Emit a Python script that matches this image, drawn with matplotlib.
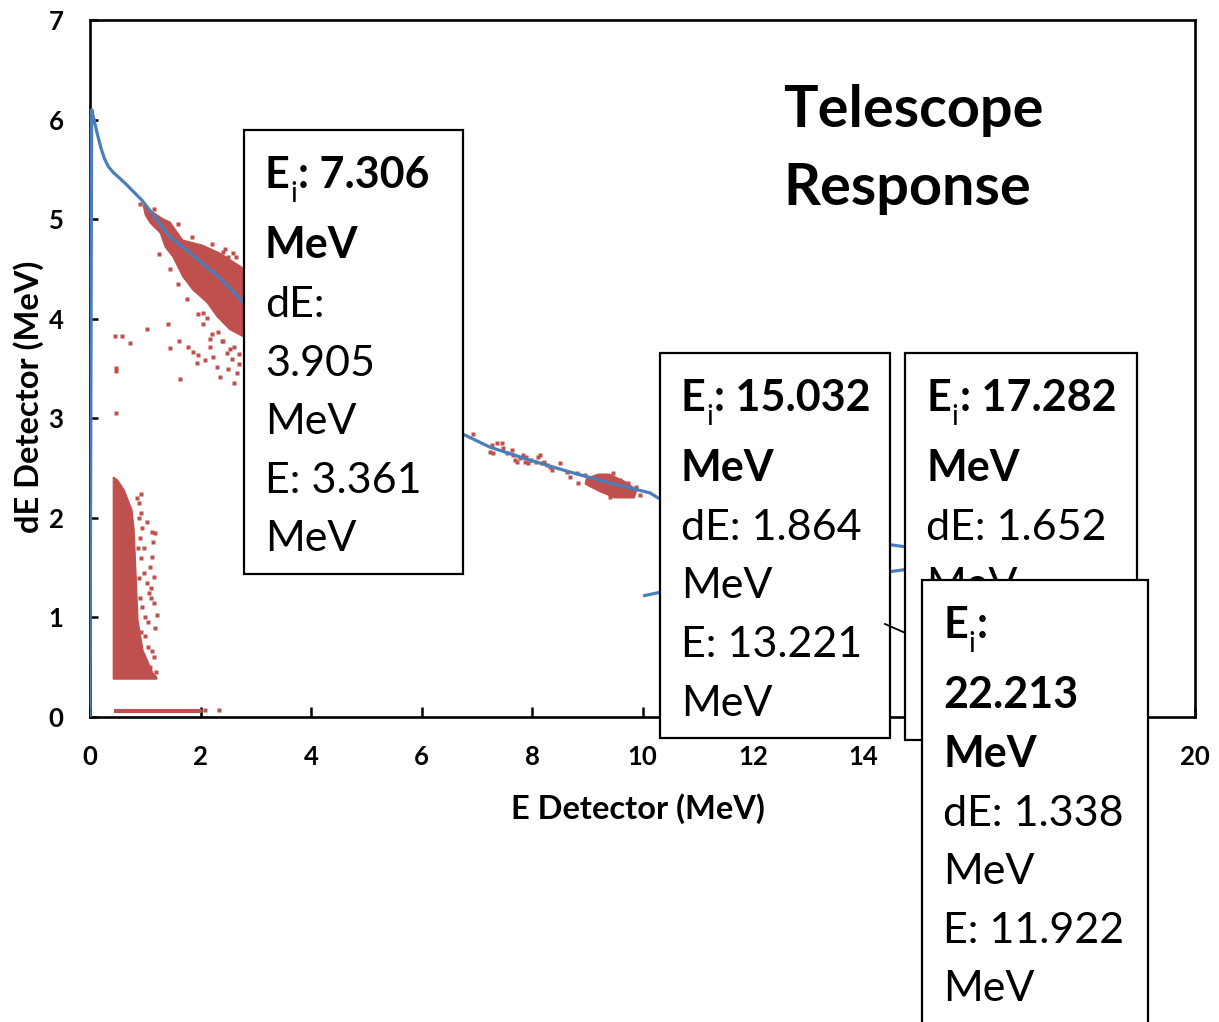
import matplotlib
matplotlib.use("Agg")
import matplotlib.pyplot as plt
from matplotlib.patches import Rectangle
from matplotlib.lines import Line2D

plt.rcParams['font.family'] = ['Lato', 'DejaVu Sans']

# model response curve, main branch
curve_e = [0.0, 0.03, 0.08, 0.14, 0.20, 0.26, 0.33, 0.42, 0.60, 0.94, 1.45, 1.81, 2.35, 2.77,
           3.5, 4.5, 5.5, 6.2, 6.79, 7.24, 7.96, 8.69, 9.41, 10.14, 10.28, 11.0, 12.0, 13.0,
           14.0, 14.48, 14.75]
curve_de = [0.0, 6.10, 5.98, 5.84, 5.71, 5.61, 5.53, 5.47, 5.38, 5.19, 4.82, 4.66, 4.41, 4.17,
            3.82, 3.45, 3.15, 2.97, 2.83, 2.71, 2.58, 2.46, 2.35, 2.25, 2.20, 2.12, 2.00, 1.88,
            1.78, 1.73, 1.71]
# punch-through branch
punch_e = [10.04, 10.30, 11.5, 13.0, 14.48, 14.75]
punch_de = [1.22, 1.25, 1.31, 1.39, 1.46, 1.48]

# dense regions of measured events (outlines)
band_hi_e = [0.96, 1.30, 1.45, 1.68, 2.03, 2.35, 2.77, 2.77, 2.53, 2.30, 2.12, 1.86, 1.68,
             1.50, 1.36, 1.27, 1.09, 1.00]
band_hi_de = [5.14, 5.01, 4.97, 4.79, 4.74, 4.66, 4.51, 3.82, 3.89, 4.02, 4.16, 4.29, 4.42,
              4.62, 4.72, 4.86, 4.96, 5.04]
cluster_lo_e = [0.42, 0.42, 0.50, 0.62, 0.76, 0.80, 0.83, 0.87, 0.96, 1.14, 1.21, 1.21]
cluster_lo_de = [0.38, 2.41, 2.38, 2.28, 2.08, 1.88, 1.48, 0.97, 0.67, 0.44, 0.40, 0.38]
blob_mid_e = [9.00, 9.20, 9.40, 9.70, 9.90, 9.85, 9.50, 9.20, 8.96]
blob_mid_de = [2.40, 2.44, 2.44, 2.36, 2.28, 2.20, 2.20, 2.27, 2.34]
floor_e = [0.43, 2.00, 2.00, 0.43]
floor_de = [0.055, 0.055, 0.085, 0.085]

# individual events
events_e = [0.45, 0.58, 0.72, 1.03, 1.41, 1.45, 1.61, 1.63, 0.47, 0.47, 0.47, 1.77, 1.86,
            1.95, 2.05, 2.12, 1.94, 2.08, 2.17, 2.23, 2.30, 2.35, 2.48, 2.50, 2.61, 2.41,
            2.59, 2.50, 2.57, 2.17, 2.32, 2.39, 2.53, 2.57, 2.70, 2.66,
            0.90, 1.15, 1.60, 1.85, 2.20, 2.45, 2.65, 1.25, 1.45, 1.60, 1.75, 1.95, 2.05,
            2.20, 2.40, 2.60, 2.70,
            0.92, 1.03, 1.13, 1.18, 1.14, 1.12, 1.15, 1.15, 1.21, 1.18, 1.12, 0.93, 1.03,
            1.06, 1.00, 1.09, 0.88, 0.98, 1.10, 0.95, 1.05,
            0.85, 0.88, 0.90, 0.95, 0.92, 0.98, 0.90, 0.95, 1.00, 0.92, 1.05, 1.00, 1.08,
            0.88, 0.86, 1.10, 1.15, 1.20, 0.83, 0.90,
            2.08, 2.33,
            6.94, 7.27, 7.36, 7.45, 7.24, 7.30, 7.48, 7.54, 7.63, 7.66, 7.69, 7.72, 7.78, 7.84,
            7.87, 7.90, 7.93, 7.99, 8.08, 8.11, 8.14, 8.18, 8.21, 8.27, 8.33, 8.36, 8.51, 8.63,
            8.69, 8.81, 8.84, 8.96, 8.99, 9.05, 9.08, 9.14, 9.17, 9.23, 9.26, 9.29, 9.32, 9.35,
            9.38, 9.41, 9.44, 9.47, 9.50, 9.53, 9.56, 9.59, 9.62, 9.65, 9.68, 9.71, 9.74, 9.77,
            9.83, 9.89, 9.95, 9.47, 9.41]
events_de = [3.83, 3.83, 3.76, 3.90, 3.95, 3.71, 3.78, 3.39, 3.51, 3.47, 3.05, 3.72, 3.67,
             3.64, 4.06, 4.01, 3.56, 3.59, 3.72, 3.62, 3.52, 3.41, 3.66, 3.49, 3.35, 4.67,
             4.66, 4.62, 4.52, 3.80, 3.87, 3.78, 3.70, 3.60, 3.55, 3.45,
             5.15, 5.10, 4.95, 4.82, 4.75, 4.70, 4.62, 4.65, 4.50, 4.35, 4.20, 4.05, 3.95,
             3.85, 3.78, 3.72, 3.65,
             2.24, 1.96, 1.86, 1.85, 1.76, 1.61, 1.41, 1.14, 1.02, 0.89, 0.66, 2.05, 1.35,
             1.25, 0.81, 1.51, 2.15, 1.70, 1.30, 0.55, 0.95,
             2.20, 2.00, 1.80, 1.90, 1.60, 1.45, 1.20, 1.10, 1.00, 0.85, 0.70, 0.50, 0.50,
             1.40, 1.70, 1.20, 0.60, 0.45, 0.80, 0.60,
             0.07, 0.07,
             2.84, 2.73, 2.75, 2.75, 2.66, 2.65, 2.70, 2.65, 2.68, 2.63, 2.58, 2.56, 2.60, 2.63,
             2.56, 2.61, 2.55, 2.58, 2.56, 2.61, 2.63, 2.55, 2.56, 2.53, 2.51, 2.48, 2.55, 2.46,
             2.41, 2.45, 2.35, 2.43, 2.38, 2.40, 2.33, 2.41, 2.36, 2.41, 2.31, 2.38, 2.28, 2.35,
             2.31, 2.40, 2.26, 2.45, 2.35, 2.30, 2.25, 2.38, 2.31, 2.33, 2.28, 2.23, 2.35, 2.30,
             2.26, 2.31, 2.23, 2.23, 2.21]

# data label contents: first line is (E, subscript, rest), then (text, bold)
label_heads = [("E", "i", ": 7.306"), ("E", "i", ": 15.032"), ("E", "i", ": 17.282"), ("E", "i", ":")]
label_lines = [
    [("MeV", True), ("dE:", False), ("3.905", False), ("MeV", False), ("E: 3.361", False),
     ("MeV", False)],
    [("MeV", True), ("dE: 1.864", False), ("MeV", False), ("E: 13.221", False), ("MeV", False)],
    [("MeV", True), ("dE: 1.652", False), ("MeV", False)],
    [("22.213", True), ("MeV", True), ("dE: 1.338", False), ("MeV", False), ("E: 11.922", False),
     ("MeV", False)],
]

W, H = 1219, 1022
fig = plt.figure(figsize=(W / 100, H / 100), dpi=100)
fig.patch.set_facecolor('white')


def fx(px):
    return px / W


def fy(py):
    return 1 - py / H


ax = fig.add_axes([fx(90), fy(717), fx(1195 - 90), (717 - 20) / H])

red = '#C0504D'
blue = '#4A7EBB'
for ex, ey in [(band_hi_e, band_hi_de), (cluster_lo_e, cluster_lo_de),
               (blob_mid_e, blob_mid_de), (floor_e, floor_de)]:
    ax.fill(ex, ey, color=red, lw=0.8, ec=red, zorder=2)
ax.plot(events_e, events_de, 's', color=red, ms=2.5, mec='none', zorder=2)
ax.plot(curve_e, curve_de, color=blue, lw=2.3, zorder=3)
ax.plot(punch_e, punch_de, color=blue, lw=2.3, zorder=3)

ax.set_xlim(0, 20)
ax.set_ylim(0, 7)
ax.set_xticks(range(0, 21, 2))
ax.set_yticks(range(0, 8))
ax.tick_params(axis='x', direction='in', length=7, width=1.8, labelsize=18.5, pad=20)
ax.tick_params(axis='y', direction='in', length=6, width=1.8, labelsize=18.5, pad=19)
for lbl in ax.get_xticklabels() + ax.get_yticklabels():
    lbl.set_fontweight('bold')
for sp in ax.spines.values():
    sp.set_linewidth(1.9)
    sp.set_color('black')

fig.text(fx(638), fy(819), 'E Detector (MeV)', fontsize=23.5, fontweight='bold',
         ha='center', va='baseline')
fig.text(fx(29), fy(397), 'dE Detector (MeV)', fontsize=23.5, fontweight='bold',
         ha='center', va='center', rotation=90)

fig.text(fx(783), fy(127), 'Telescope', fontsize=41.5, fontweight='bold', va='baseline')
fig.text(fx(783), fy(205), 'Response', fontsize=41.5, fontweight='bold', va='baseline')

# label box layout in pixels: left, top, width, height
boxes = [(244, 130, 219, 444), (660, 353, 230, 385), (905, 353, 232, 387), (922, 580, 226, 450)]
offsets = [58, 128, 187, 245.5, 304, 362.5, 421]

# leader line behind the right boxes
fig.add_artist(Line2D([fx(885), fx(910)], [fy(624), fy(635)], color='black', lw=1.3, zorder=13))

renderer = fig.canvas.get_renderer()
for k, ((bx, by, bw, bh), head, lines) in enumerate(zip(boxes, label_heads, label_lines)):
    z = 10 + 2 * k
    fig.add_artist(Rectangle((fx(bx), fy(by + bh)), bw / W, bh / H, transform=fig.transFigure,
                             facecolor='white', edgecolor='black', lw=1.6, zorder=z))
    tx = bx + 21
    t = fig.text(fx(tx), fy(by + offsets[0]), head[0], fontsize=31, fontweight='bold',
                 va='baseline', zorder=z + 0.5)
    x1 = t.get_window_extent(renderer=renderer).x1
    t = fig.text((x1 + 1) / W, fy(by + offsets[0] + 14), head[1], fontsize=20,
                 va='baseline', zorder=z + 0.5)
    x1 = t.get_window_extent(renderer=renderer).x1
    fig.text((x1 + 1) / W, fy(by + offsets[0]), head[2], fontsize=31, fontweight='bold',
             va='baseline', zorder=z + 0.5)
    for (txt, bold), off in zip(lines, offsets[1:]):
        fig.text(fx(tx), fy(by + off), txt, fontsize=31,
                 fontweight='bold' if bold else 'normal', va='baseline', zorder=z + 0.5)

fig.savefig('out.png', dpi=100)
